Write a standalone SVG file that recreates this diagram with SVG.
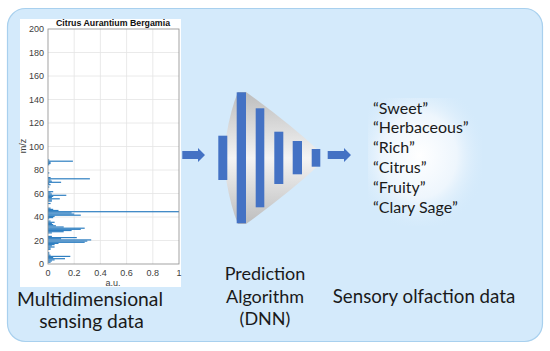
<svg xmlns="http://www.w3.org/2000/svg" width="550" height="351" viewBox="0 0 550 351">
<defs>
<style>
.ax{font-family:"Liberation Sans",Arial,sans-serif;font-size:9px;fill:#404040}
.big{font-family:Lato,"Open Sans",sans-serif;fill:#1a1a1a}
.grid{stroke:#e4e4e4;stroke-width:0.8}
.bar{fill:#2f7fc1}
.layer{fill:#4472c4}
</style>
<linearGradient id="funnel" x1="0" y1="0" x2="0" y2="1">
<stop offset="0" stop-color="#bdbdbd"/>
<stop offset="0.5" stop-color="#f4f4f4"/>
<stop offset="1" stop-color="#bdbdbd"/>
</linearGradient>
<radialGradient id="glow" cx="0.45" cy="0.45" r="0.6">
<stop offset="0" stop-color="#ffffff"/>
<stop offset="0.55" stop-color="#eef6fd"/>
<stop offset="1" stop-color="#d4eafb" stop-opacity="0"/>
</radialGradient>
</defs>

<g id="frame">
<rect x="7.5" y="8.5" width="535" height="333" rx="18" fill="#d4eafb" stroke="#a8d0ee" stroke-width="1.2"/>
</g>

<g id="plot">
<rect x="20" y="19" width="161" height="268" fill="#ffffff"/>
<g class="grid">
<line x1="74.2" y1="29" x2="74.2" y2="264"/>
<line x1="100.4" y1="29" x2="100.4" y2="264"/>
<line x1="126.6" y1="29" x2="126.6" y2="264"/>
<line x1="152.8" y1="29" x2="152.8" y2="264"/>
<line x1="48" y1="240.5" x2="179" y2="240.5"/>
<line x1="48" y1="217" x2="179" y2="217"/>
<line x1="48" y1="193.5" x2="179" y2="193.5"/>
<line x1="48" y1="170" x2="179" y2="170"/>
<line x1="48" y1="146.5" x2="179" y2="146.5"/>
<line x1="48" y1="123" x2="179" y2="123"/>
<line x1="48" y1="99.5" x2="179" y2="99.5"/>
<line x1="48" y1="76" x2="179" y2="76"/>
<line x1="48" y1="52.5" x2="179" y2="52.5"/>
</g>
<g class="bar">
<rect x="48" y="261.6" width="2.6" height="1.2"/>
<rect x="48" y="260.4" width="3.9" height="1.2"/>
<rect x="48" y="259.3" width="6.6" height="1.2"/>
<rect x="48" y="258.1" width="17" height="1.2"/>
<rect x="48" y="256.9" width="5.2" height="1.2"/>
<rect x="48" y="255.8" width="22.3" height="1.2"/>
<rect x="48" y="254.6" width="2.6" height="1.2"/>
<rect x="48" y="253.4" width="1.3" height="1.2"/>
<rect x="48" y="252.2" width="1.3" height="1.2"/>
<rect x="48" y="248.7" width="2.6" height="1.2"/>
<rect x="48" y="247.5" width="2.6" height="1.2"/>
<rect x="48" y="246.4" width="6.6" height="1.2"/>
<rect x="48" y="245.2" width="3.9" height="1.2"/>
<rect x="48" y="244" width="6.6" height="1.2"/>
<rect x="48" y="242.8" width="10.5" height="1.2"/>
<rect x="48" y="241.7" width="36.7" height="1.2"/>
<rect x="48" y="240.5" width="39.3" height="1.2"/>
<rect x="48" y="239.3" width="43.2" height="1.2"/>
<rect x="48" y="238.1" width="13.1" height="1.2"/>
<rect x="48" y="237" width="28.8" height="1.2"/>
<rect x="48" y="235.8" width="3.9" height="1.2"/>
<rect x="48" y="232.3" width="3.9" height="1.2"/>
<rect x="48" y="231.1" width="15.7" height="1.2"/>
<rect x="48" y="229.9" width="23.6" height="1.2"/>
<rect x="48" y="228.7" width="32.8" height="1.2"/>
<rect x="48" y="227.6" width="36.7" height="1.2"/>
<rect x="48" y="226.4" width="15.7" height="1.2"/>
<rect x="48" y="225.2" width="7.9" height="1.2"/>
<rect x="48" y="224" width="5.2" height="1.2"/>
<rect x="48" y="222.9" width="3.9" height="1.2"/>
<rect x="48" y="221.7" width="6.6" height="1.2"/>
<rect x="48" y="220.5" width="2.6" height="1.2"/>
<rect x="48" y="218.2" width="1.3" height="1.2"/>
<rect x="48" y="217" width="5.2" height="1.2"/>
<rect x="48" y="215.8" width="6.6" height="1.2"/>
<rect x="48" y="214.6" width="32.8" height="1.2"/>
<rect x="48" y="213.5" width="26.2" height="1.2"/>
<rect x="48" y="212.3" width="23.6" height="1.2"/>
<rect x="48" y="211.1" width="131" height="1.2"/>
<rect x="48" y="209.9" width="10.5" height="1.2"/>
<rect x="48" y="208.8" width="5.2" height="1.2"/>
<rect x="48" y="207.6" width="2.6" height="1.2"/>
<rect x="48" y="202.9" width="2.6" height="1.2"/>
<rect x="48" y="200.5" width="3.9" height="1.2"/>
<rect x="48" y="199.4" width="3.9" height="1.2"/>
<rect x="48" y="198.2" width="11.8" height="1.2"/>
<rect x="48" y="197" width="3.9" height="1.2"/>
<rect x="48" y="195.8" width="5.2" height="1.2"/>
<rect x="48" y="194.7" width="18.3" height="1.2"/>
<rect x="48" y="193.5" width="3.9" height="1.2"/>
<rect x="48" y="192.3" width="2.6" height="1.2"/>
<rect x="48" y="191.1" width="5.2" height="1.2"/>
<rect x="48" y="186.4" width="1.3" height="1.2"/>
<rect x="48" y="184.1" width="2.6" height="1.2"/>
<rect x="48" y="182.9" width="1.3" height="1.2"/>
<rect x="48" y="181.7" width="13.1" height="1.2"/>
<rect x="48" y="180.6" width="3.9" height="1.2"/>
<rect x="48" y="179.4" width="2.6" height="1.2"/>
<rect x="48" y="178.2" width="41.9" height="1.2"/>
<rect x="48" y="177" width="2.6" height="1.2"/>
<rect x="48" y="172.3" width="1.3" height="1.2"/>
<rect x="48" y="164.1" width="1.3" height="1.2"/>
<rect x="48" y="162.9" width="2.6" height="1.2"/>
<rect x="48" y="161.7" width="2.6" height="1.2"/>
<rect x="48" y="160.6" width="24.9" height="1.2"/>
<rect x="48" y="159.4" width="1.3" height="1.2"/>
</g>
<rect x="48" y="29" width="131" height="235" fill="none" stroke="#8c8c8c" stroke-width="0.8"/>
<text class="ax" x="44" y="267.2" text-anchor="end">0</text>
<text class="ax" x="44" y="243.7" text-anchor="end">20</text>
<text class="ax" x="44" y="220.2" text-anchor="end">40</text>
<text class="ax" x="44" y="196.7" text-anchor="end">60</text>
<text class="ax" x="44" y="173.2" text-anchor="end">80</text>
<text class="ax" x="44" y="149.7" text-anchor="end">100</text>
<text class="ax" x="44" y="126.2" text-anchor="end">120</text>
<text class="ax" x="44" y="102.7" text-anchor="end">140</text>
<text class="ax" x="44" y="79.2" text-anchor="end">160</text>
<text class="ax" x="44" y="55.7" text-anchor="end">180</text>
<text class="ax" x="44" y="32.2" text-anchor="end">200</text>
<text class="ax" x="48" y="275.5" text-anchor="middle">0</text>
<text class="ax" x="74.2" y="275.5" text-anchor="middle">0.2</text>
<text class="ax" x="100.4" y="275.5" text-anchor="middle">0.4</text>
<text class="ax" x="126.6" y="275.5" text-anchor="middle">0.6</text>
<text class="ax" x="152.8" y="275.5" text-anchor="middle">0.8</text>
<text class="ax" x="179" y="275.5" text-anchor="middle">1</text>
<text class="ax" x="113" y="285.5" text-anchor="middle" font-size="8.5">a.u.</text>
<text class="ax" x="0" y="0" text-anchor="middle" transform="translate(26 146) rotate(-90)">m/z</text>
<text x="113" y="25.5" text-anchor="middle" font-family="'Liberation Sans',Arial,sans-serif" font-size="8.8" font-weight="bold" fill="#111">Citrus Aurantium Bergamia</text>
</g>

<g id="label-multidimensional">
<text class="big" font-size="19.3" text-anchor="middle" x="90" y="306">Multidimensional</text>
<text class="big" font-size="19.3" text-anchor="middle" x="91.5" y="328">sensing data</text>
</g>

<g id="dnn">
<path d="M226,137 Q231,108 238,92 L246,92 Q290,124 318,150 L318,166 Q290,192 246,224 L238,224 Q231,208 226,179 Z" fill="url(#funnel)"/>
<rect class="layer" x="218.3" y="135.7" width="9" height="44.3"/>
<rect class="layer" x="236.7" y="92.3" width="9.3" height="131"/>
<rect class="layer" x="255.7" y="108.3" width="8.6" height="99"/>
<rect class="layer" x="274.3" y="131.7" width="9" height="52.3"/>
<rect class="layer" x="292.7" y="141" width="9.3" height="33.3"/>
<rect class="layer" x="311.7" y="149" width="8.6" height="17.7"/>
</g>

<g id="label-prediction">
<text class="big" font-size="18" text-anchor="middle" x="265" y="280">Prediction</text>
<text class="big" font-size="18" text-anchor="middle" x="265" y="302.5">Algorithm</text>
<text class="big" font-size="18" text-anchor="middle" x="265" y="325">(DNN)</text>
</g>

<g id="descriptors">
<rect x="368" y="98" width="114" height="128" fill="url(#glow)"/>
<text class="big" font-size="16" x="373" y="113.5">“Sweet”</text>
<text class="big" font-size="16" x="373" y="133.3">“Herbaceous”</text>
<text class="big" font-size="16" x="373" y="153.1">“Rich”</text>
<text class="big" font-size="16" x="373" y="172.9">“Citrus”</text>
<text class="big" font-size="16" x="373" y="192.7">“Fruity”</text>
<text class="big" font-size="16" x="373" y="212.5">“Clary Sage”</text>
</g>

<g id="label-sensory">
<text class="big" font-size="18.7" text-anchor="middle" x="424" y="303.3">Sensory olfaction data</text>
</g>

<g id="connectors" fill="#4472c4">
<path d="M182.3,151 L198,151 L198,148 L205,155 L198,162 L198,159 L182.3,159 Z"/>
<path d="M327.7,151 L344,151 L344,148 L351,155 L344,162 L344,159 L327.7,159 Z"/>
</g>
</svg>
